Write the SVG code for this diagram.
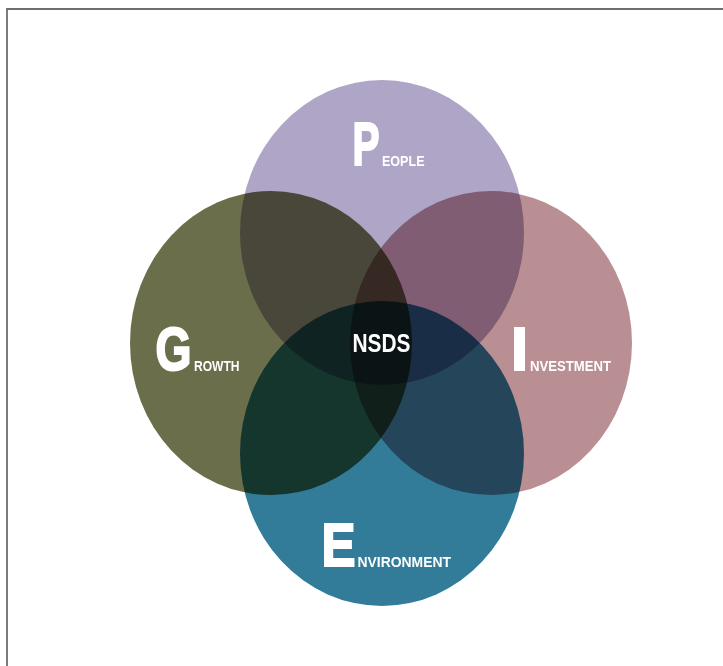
<svg xmlns="http://www.w3.org/2000/svg" width="723" height="666" viewBox="0 0 723 666">
<style>
.c{mix-blend-mode:multiply}
.lbl{font-family:"Liberation Sans",Arial,sans-serif;font-weight:bold;fill:#fff}
.big{font-size:62px;stroke:#fff;stroke-width:2.2;stroke-linejoin:miter}
.sm{font-size:14.5px;stroke:none}
.ctr{font-family:"Liberation Sans",Arial,sans-serif;font-weight:bold;font-size:25px;fill:#fff}
</style>
<rect width="723" height="666" fill="#fff"/>
<path d="M7,666 V9 H723" fill="none" stroke="#6e6e6e" stroke-width="1.8"/>
<g id="circles" style="isolation:isolate">
<ellipse id="people-shape" class="c" cx="382" cy="232.5" rx="142" ry="152.5" fill="#afa5c6"/>
<ellipse id="growth-shape" class="c" cx="271" cy="343" rx="141" ry="152" fill="#6a6e4a"/>
<ellipse id="investment-shape" class="c" cx="491" cy="343" rx="141" ry="152" fill="#ba8f94"/>
<ellipse id="environment-shape" class="c" cx="382" cy="453.5" rx="142" ry="152.5" fill="#327c9a"/>
</g>
<g id="people">
<text class="lbl"><tspan class="big" x="352.5" y="165" textLength="27" lengthAdjust="spacingAndGlyphs">P</tspan><tspan class="sm" x="382" y="166" textLength="42.5" lengthAdjust="spacingAndGlyphs">EOPLE</tspan></text>
</g>
<g id="growth">
<text class="lbl"><tspan class="big" x="155.5" y="370" textLength="36" lengthAdjust="spacingAndGlyphs">G</tspan><tspan class="sm" x="194" y="371" textLength="45.5" lengthAdjust="spacingAndGlyphs">ROWTH</tspan></text>
</g>
<g id="investment">
<text class="lbl"><tspan class="big" x="511" y="370" textLength="17" lengthAdjust="spacingAndGlyphs">I</tspan><tspan class="sm" x="530" y="371" textLength="81" lengthAdjust="spacingAndGlyphs">NVESTMENT</tspan></text>
</g>
<g id="environment">
<text class="lbl"><tspan class="big" x="321.5" y="565.5" textLength="34" lengthAdjust="spacingAndGlyphs">E</tspan><tspan class="sm" x="357.5" y="566.5" textLength="93.5" lengthAdjust="spacingAndGlyphs">NVIRONMENT</tspan></text>
</g>
<g id="nsds">
<text class="ctr" x="352.5" y="351.5" textLength="58" lengthAdjust="spacingAndGlyphs">NSDS</text>
</g>
<g id="connectors"/>
</svg>
